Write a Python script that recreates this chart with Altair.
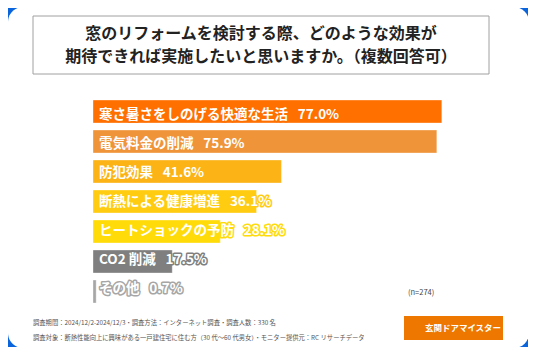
import altair as alt
import pandas as pd

categories = ["寒さ暑さをしのげる快適な生活", "電気料金の削減", "防犯効果", "断熱による健康増進",
              "ヒートショックの予防", "CO2 削減", "その他"]
values = [77.0, 75.9, 41.6, 36.1, 28.1, 17.5, 0.7]
colors = ["#FF7000", "#F0943A", "#FCB316", "#FFCC12", "#FFDB0A", "#7F7F7F", "#A6A6A6"]

title_lines = ["窓のリフォームを検討する際、どのような効果が", "期待できれば実施したいと思いますか。（複数回答可）"]
note_lines = ["調査期間：2024/12/2-2024/12/3・調査方法：インターネット調査・調査人数：330 名",
              "調査対象：断熱性能向上に興味がある一戸建住宅に住む方（30 代～60 代男女）・モニター提供元：RC リサーチデータ"]
n_label = "(n=274)"
brand = "玄関ドアマイスター"

W, H = 520, 339
FONT = "Noto Sans CJK JP"

df = pd.DataFrame({
    "cat": categories,
    "val": values,
    "label": [f"{c}\u2002 {v:.1f}%" for c, v in zip(categories, values)],
})

xs = alt.Scale(domain=[0, 100], range=[85, 538])
ys = alt.Scale(domain=categories, range=[92, 295], paddingInner=0.233, paddingOuter=0)
cs = alt.Scale(domain=categories, range=colors)

panel = alt.Chart(pd.DataFrame({"a": [0]})).mark_rect(
    color="white", cornerRadius=15
).encode(x=alt.value(0), x2=alt.value(W + 1), y=alt.value(-1), y2=alt.value(H + 1))

title_box = alt.Chart(pd.DataFrame({"a": [0]})).mark_rect(
    fill="white", stroke="#A0A0A0", strokeWidth=1
).encode(x=alt.value(25), x2=alt.value(481), y=alt.value(8), y2=alt.value(66))

title = alt.Chart(pd.DataFrame({"t": title_lines, "i": [0, 1]})).mark_text(
    font=FONT, fontSize=16, fontWeight="bold", color="#222222", align="center", baseline="middle"
).encode(
    x=alt.value(253),
    y=alt.Y("i:Q", scale=alt.Scale(domain=[0, 1], range=[26, 49]), axis=None),
    text="t:N",
)

bars = alt.Chart(df).mark_bar(strokeWidth=1, strokeOpacity=0.35, stroke="white").encode(
    x=alt.X("val:Q", scale=xs, axis=None),
    x2=alt.datum(0),
    y=alt.Y("cat:N", scale=ys, axis=None, sort=categories),
    color=alt.Color("cat:N", scale=cs, legend=None),
)

halo = alt.Chart(df).mark_text(
    font=FONT, fontSize=13.5, fontWeight="bold", align="left", baseline="middle",
    dx=6, strokeWidth=3, strokeJoin="round"
).encode(
    x=alt.datum(0, scale=xs),
    y=alt.Y("cat:N", scale=ys, axis=None, sort=categories, bandPosition=0.5),
    text="label:N",
    stroke=alt.Color("cat:N", scale=cs, legend=None),
    fill=alt.Color("cat:N", scale=cs, legend=None),
)

labels = alt.Chart(df).mark_text(
    font=FONT, fontSize=13.5, fontWeight="bold", align="left", baseline="middle",
    dx=6, color="white"
).encode(
    x=alt.datum(0, scale=xs),
    y=alt.Y("cat:N", scale=ys, axis=None, sort=categories, bandPosition=0.5),
    text="label:N",
)

n_text = alt.Chart(pd.DataFrame({"t": [n_label]})).mark_text(
    font=FONT, fontSize=7.5, color="#444444", align="left", baseline="middle"
).encode(x=alt.value(400), y=alt.value(285), text="t:N")

notes = alt.Chart(pd.DataFrame({"t": note_lines, "i": [0, 1]})).mark_text(
    font=FONT, fontSize=6.3, color="#555555", align="left", baseline="middle"
).encode(
    x=alt.value(25),
    y=alt.Y("i:Q", scale=alt.Scale(domain=[0, 1], range=[315, 330]), axis=None),
    text="t:N",
)

logo_box = alt.Chart(pd.DataFrame({"a": [0]})).mark_rect(
    color="#EE7700"
).encode(x=alt.value(396), x2=alt.value(495), y=alt.value(308), y2=alt.value(332))

logo_text = alt.Chart(pd.DataFrame({"t": [brand]})).mark_text(
    font=FONT, fontSize=8.5, fontWeight="bold", color="white", align="center", baseline="middle"
).encode(x=alt.value(455), y=alt.value(320), text="t:N")

chart = alt.layer(
    panel, title_box, title, bars, halo, labels, n_text, notes, logo_box, logo_text
).resolve_scale(y="independent").properties(
    width=W, height=H, autosize=alt.AutoSizeParams(type="none"), padding=0,
    background="#0A64DC"
).configure_view(stroke=None)

chart.save("out.html", embed_options={"renderer": "svg", "actions": False})
